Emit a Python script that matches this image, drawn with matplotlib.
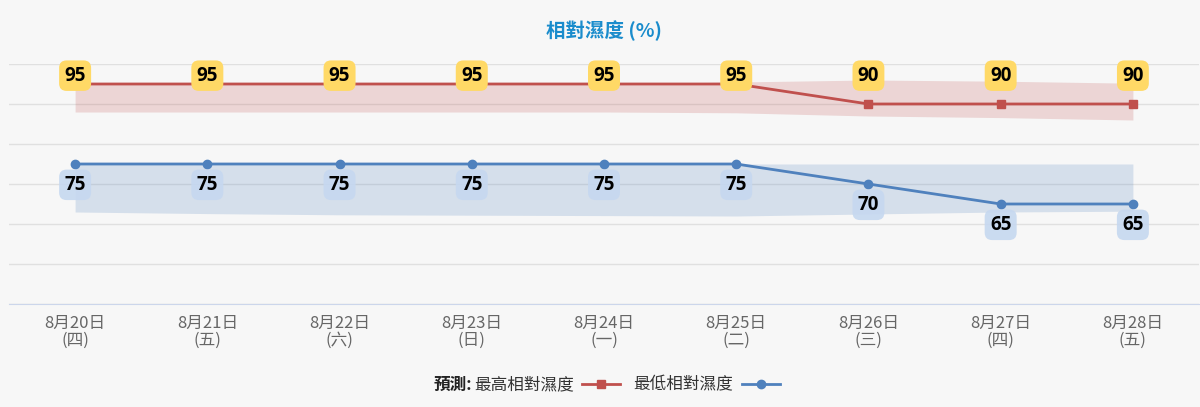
import matplotlib.pyplot as plt

plt.rcParams['font.family'] = ['Noto Sans CJK TC', 'DejaVu Sans']

# data
dates = ['8月20日', '8月21日', '8月22日', '8月23日', '8月24日', '8月25日', '8月26日', '8月27日', '8月28日']
weekdays = ['(四)', '(五)', '(六)', '(日)', '(一)', '(二)', '(三)', '(四)', '(五)']
max_rh = [95, 95, 95, 95, 95, 95, 90, 90, 90]
min_rh = [75, 75, 75, 75, 75, 75, 70, 65, 65]
# shaded ranges
max_band_hi = [95, 95, 95, 95, 95, 95.5, 96, 95.7, 95.2]
max_band_lo = [88, 88, 88, 88, 88, 87.8, 87, 86.6, 86]
min_band_hi = [75, 75, 75, 75, 75, 75, 75, 75, 75]
min_band_lo = [63, 62.6, 62.3, 62.2, 62.1, 62, 62.5, 63, 63.2]

red = '#c0504d'
blue = '#4f81bd'
bg = '#f7f7f7'

fig = plt.figure(figsize=(12, 4.07), dpi=100, facecolor=bg)
ax = fig.add_axes([9 / 1200, 1 - 304 / 407, 1190 / 1200, 240 / 407])
ax.set_facecolor(bg)

x = list(range(len(dates)))

ax.fill_between(x, max_band_lo, max_band_hi, color=red, alpha=0.2, lw=0)
ax.fill_between(x, min_band_lo, min_band_hi, color=blue, alpha=0.2, lw=0)

l1, = ax.plot(x, max_rh, color=red, lw=2, marker='s', ms=6, label='最高相對濕度', zorder=3)
l2, = ax.plot(x, min_rh, color=blue, lw=2, marker='o', ms=6, label='最低相對濕度', zorder=3)

# max labels all sit on one row at the top of the series
top_level = max(max_rh)
for i in x:
    ax.annotate(str(max_rh[i]), (i, top_level), xytext=(0, 6), textcoords='offset points',
                ha='center', va='center', fontsize=13.5, fontweight='bold', color='black',
                family=['Open Sans', 'DejaVu Sans'],
                bbox=dict(boxstyle='round,pad=0.28,rounding_size=0.4', fc='#ffd966', ec='none'),
                zorder=5, annotation_clip=False)
    ax.annotate(str(min_rh[i]), (i, min_rh[i]), xytext=(0, -15), textcoords='offset points',
                ha='center', va='center', fontsize=13.5, fontweight='bold', color='black',
                family=['Open Sans', 'DejaVu Sans'],
                bbox=dict(boxstyle='round,pad=0.28,rounding_size=0.4', fc='#c6d8f0', ec='none', alpha=0.9),
                zorder=5, annotation_clip=False)

ax.set_xlim(-0.5, 8.5)
ax.set_ylim(40, 100)
ax.set_yticks(range(40, 101, 10))
ax.set_yticklabels([])
ax.tick_params(axis='y', length=0)
ax.grid(axis='y', color='#e0e0e0', lw=1)
ax.set_axisbelow(True)
ax.set_xticks(x)
ax.set_xticklabels([d + '\n' + w for d, w in zip(dates, weekdays)], fontsize=12, color='#666666',
                   linespacing=1.0)
ax.tick_params(axis='x', length=0, pad=8)
for s in ['top', 'right', 'left']:
    ax.spines[s].set_visible(False)
ax.spines['bottom'].set_color('#ccd6eb')

fig.text(0.5035, 1 - 31 / 407, '相對濕度 (%)', ha='center', va='center', fontsize=14,
         fontweight='bold', color='#1a8ccc')

fig.legend(handles=[l1, l2], loc='center', bbox_to_anchor=(627 / 1200, 1 - 385 / 407), ncol=2,
           frameon=False, markerfirst=False, fontsize=12, handlelength=2.3, columnspacing=0.8,
           handletextpad=0.5, labelcolor='#333333')
fig.text(472 / 1200, 1 - 385 / 407, '預測:', ha='right', va='center', fontsize=12,
         fontweight='bold', color='#222222')

fig.savefig('out.png', dpi=100, facecolor=bg)
